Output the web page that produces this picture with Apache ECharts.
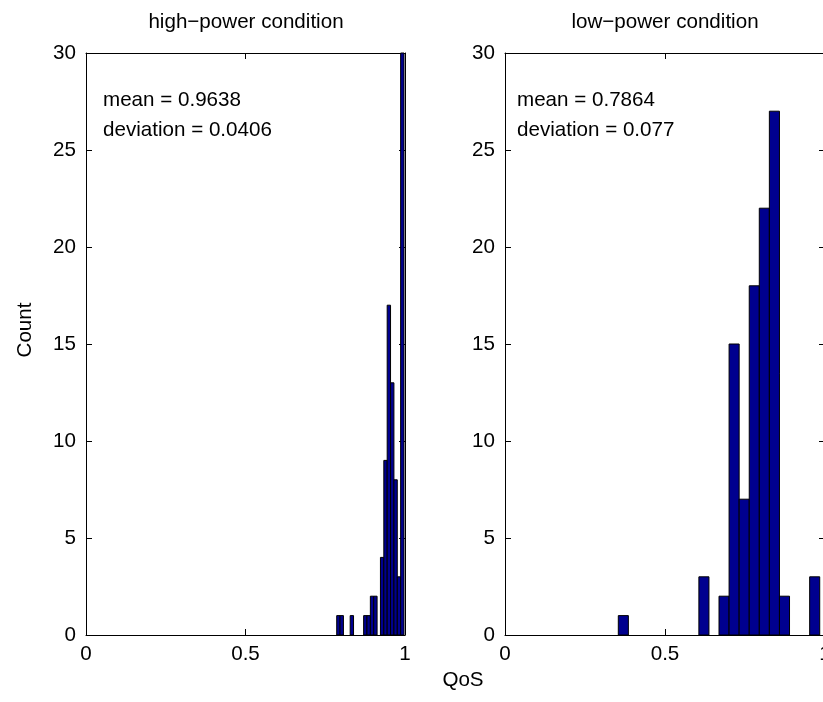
<!DOCTYPE html>
<html>
<head>
<meta charset="utf-8">
<script src="https://cdn.jsdelivr.net/npm/echarts@6/dist/echarts.min.js"></script>
<style>html,body{margin:0;padding:0;background:#fff}#c{width:823px;height:702px}</style>
</head>
<body>
<div id="c"></div>
<script>
// ---- data ----
const titles = ['high\u2212power condition', 'low\u2212power condition'];
const statTexts = [['mean = 0.9638', 'deviation = 0.0406'], ['mean = 0.7864', 'deviation = 0.077']];
const xTicks = [0, 0.5, 1];
const yTicks = [0, 5, 10, 15, 20, 25, 30];

// high-power histogram: 20 bins
const highBinCenters = [0.7912, 0.8017, 0.8123, 0.8228, 0.8334, 0.8439, 0.8545, 0.8650, 0.8756, 0.8861,
                        0.8967, 0.9072, 0.9178, 0.9283, 0.9389, 0.9494, 0.9600, 0.9705, 0.9811, 0.9916];
const highCounts = [1, 1, 0, 0, 1, 0, 0, 0, 1, 1, 2, 2, 0, 4, 9, 17, 13, 8, 3, 37];
const highBinWidth = 0.010547;

// low-power histogram: 20 bins
const lowBinCenters = [0.3698, 0.4013, 0.4328, 0.4642, 0.4957, 0.5272, 0.5587, 0.5901, 0.6216, 0.6531,
                       0.6845, 0.7160, 0.7475, 0.7790, 0.8104, 0.8419, 0.8734, 0.9049, 0.9363, 0.9678];
const lowCounts = [1, 0, 0, 0, 0, 0, 0, 0, 3, 0, 2, 15, 7, 18, 22, 27, 2, 0, 0, 3];
const lowBinWidth = 0.03147;

// ---- chart ----
const FONT = "'Liberation Sans', Arial, Helvetica, sans-serif";
const FS = 20.6;
const chart = echarts.init(document.getElementById('c'), null, {renderer: 'canvas'});

const grids = [
  {left: 86, top: 53, width: 319, height: 582, containLabel: false, outerBoundsMode: 'none'},
  {left: 505, top: 53, width: 320, height: 582, containLabel: false, outerBoundsMode: 'none'}
];

function xAxisFor(gi, pos, show) {
  return {
    type: 'value', gridIndex: gi, position: pos, min: 0, max: 1, interval: 0.5,
    axisLine: {show: true, onZero: false, lineStyle: {color: '#000', width: 1}},
    axisTick: {show: true, inside: true, length: 6, lineStyle: {color: '#000'}},
    axisLabel: {show: show, color: '#000', fontSize: FS, fontFamily: FONT, margin: 9,
      hideOverlap: false,
      formatter: v => xTicks.indexOf(v) >= 0 ? String(v) : ''},
    splitLine: {show: false}
  };
}
function yAxisFor(gi, pos, show) {
  return {
    type: 'value', gridIndex: gi, position: pos, min: 0, max: 30, interval: 5,
    axisLine: {show: true, onZero: false, lineStyle: {color: '#000', width: 1}},
    axisTick: {show: true, inside: true, length: 6, lineStyle: {color: '#000'}},
    axisLabel: {show: show, color: '#000', fontSize: FS, fontFamily: FONT, margin: 10,
      formatter: v => yTicks.indexOf(v) >= 0 ? String(v) : ''},
    splitLine: {show: false}
  };
}

function histSeries(idx, centers, counts, width) {
  return {
    type: 'custom', xAxisIndex: idx * 2, yAxisIndex: idx * 2,
    data: centers.map((c, i) => [c, counts[i]]),
    renderItem: function (params, api) {
      const c = api.value(0), n = api.value(1);
      if (!n) return null;
      const p0 = api.coord([c - width / 2, n]);
      const p1 = api.coord([c + width / 2, 0]);
      const shape = echarts.graphic.clipRectByRect(
        {x: p0[0], y: p0[1], width: p1[0] - p0[0], height: p1[1] - p0[1]},
        {x: params.coordSys.x, y: params.coordSys.y, width: params.coordSys.width, height: params.coordSys.height});
      if (!shape) return null;
      return {type: 'rect', shape: shape, style: {fill: '#00008F', stroke: '#000', lineWidth: 1}};
    },
    z: 1
  };
}

const graphics = [];
const titleX = [246, 665];
const statX = [103, 517];
for (let i = 0; i < 2; i++) {
  graphics.push({type: 'text', x: titleX[i], y: 22,
    style: {text: titles[i], font: FS + 'px ' + FONT, fill: '#000', textAlign: 'center', textVerticalAlign: 'middle'}});
  graphics.push({type: 'text', x: statX[i], y: 100,
    style: {text: statTexts[i][0], font: FS + 'px ' + FONT, fill: '#000', textAlign: 'left', textVerticalAlign: 'middle'}});
  graphics.push({type: 'text', x: statX[i], y: 130,
    style: {text: statTexts[i][1], font: FS + 'px ' + FONT, fill: '#000', textAlign: 'left', textVerticalAlign: 'middle'}});
}
graphics.push({type: 'text', x: 463, y: 680,
  style: {text: 'QoS', font: FS + 'px ' + FONT, fill: '#000', textAlign: 'center', textVerticalAlign: 'middle'}});
graphics.push({type: 'text', x: 25, y: 330, rotation: Math.PI / 2,
  style: {text: 'Count', font: FS + 'px ' + FONT, fill: '#000', textAlign: 'center', textVerticalAlign: 'middle'}});

chart.setOption({
  animation: false,
  backgroundColor: '#fff',
  grid: grids,
  xAxis: [xAxisFor(0, 'bottom', true), xAxisFor(0, 'top', false), xAxisFor(1, 'bottom', true), xAxisFor(1, 'top', false)],
  yAxis: [yAxisFor(0, 'left', true), yAxisFor(0, 'right', false), yAxisFor(1, 'left', true), yAxisFor(1, 'right', false)],
  series: [
    histSeries(0, highBinCenters, highCounts, highBinWidth),
    histSeries(1, lowBinCenters, lowCounts, lowBinWidth)
  ],
  graphic: graphics
});
</script>
</body>
</html>
